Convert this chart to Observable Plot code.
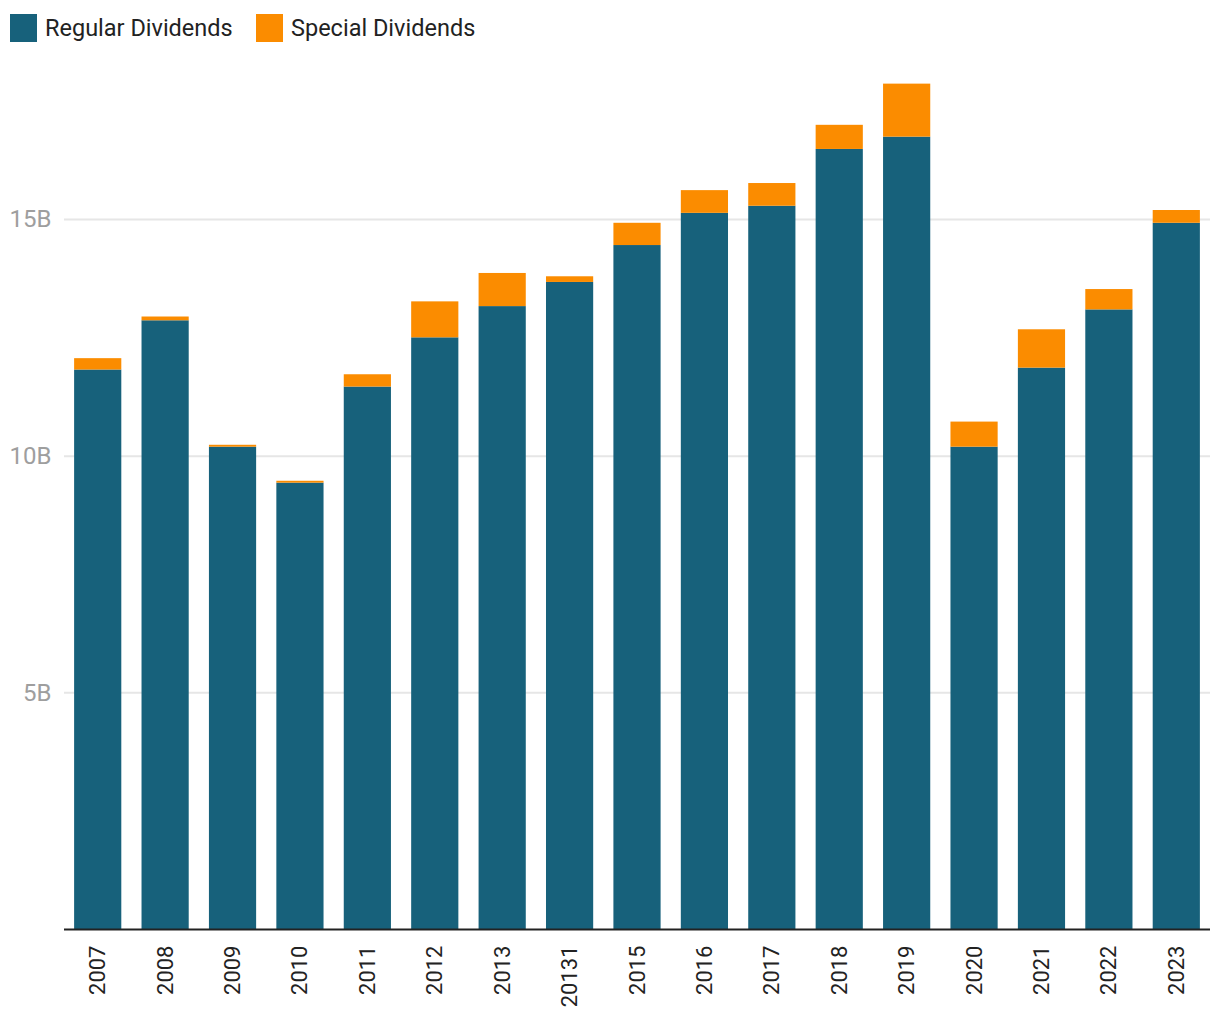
<!DOCTYPE html>
<html>
<head>
<meta charset="utf-8">
<script src="https://cdn.jsdelivr.net/npm/d3@7"></script>
<script src="https://cdn.jsdelivr.net/npm/@observablehq/plot@0.6"></script>
<style>
  html, body { margin: 0; padding: 0; background: #fff; font-family: Roboto, "Noto Sans", sans-serif; }
  #legend { position: relative; height: 50px; }
  .item { position: absolute; top: 13px; display: flex; align-items: center; font-size: 23.5px; color: #222; height: 29px; }
  .sw { width: 27px; height: 28px; margin-right: 8px; }
  #chart svg { display: block; }
</style>
</head>
<body>
<div id="legend"></div>
<div id="chart"></div>
<script>
const categories = ["2007","2008","2009","2010","2011","2012","2013","20131","2015","2016","2017","2018","2019","2020","2021","2022","2023"];
const regular = [11.82,12.86,10.19,9.43,11.46,12.50,13.16,13.67,14.45,15.13,15.28,16.48,16.74,10.19,11.86,13.09,14.92];
const special = [0.24,0.08,0.04,0.04,0.26,0.76,0.70,0.12,0.47,0.48,0.48,0.51,1.12,0.53,0.81,0.43,0.27];
const seriesNames = ["Regular Dividends","Special Dividends"];
const seriesColors = ["#17617b","#fb8c00"];
const yTicks = [5,10,15];

const data = [];
categories.forEach((c,i) => {
  data.push({year: c, series: seriesNames[0], value: regular[i]});
  data.push({year: c, series: seriesNames[1], value: special[i]});
});

// legend
const legend = document.getElementById("legend");
const legendX = [10, 256];
seriesNames.forEach((name, i) => {
  const it = document.createElement("div");
  it.className = "item";
  it.style.left = legendX[i] + "px";
  const sw = document.createElement("div");
  sw.className = "sw";
  sw.style.background = seriesColors[i];
  it.appendChild(sw);
  const t = document.createElement("span");
  t.textContent = name;
  it.appendChild(t);
  legend.appendChild(it);
});

const chart = Plot.plot({
  width: 1220,
  height: 970,
  marginTop: 27,
  marginBottom: 91,
  marginLeft: 64,
  marginRight: 10,
  style: {fontFamily: "Roboto, sans-serif", background: "#fff"},
  x: {domain: categories, paddingInner: 0.3, paddingOuter: 0.15, round: false, label: null},
  y: {domain: [0, 18], label: null},
  color: {domain: seriesNames, range: seriesColors},
  marks: [
    Plot.gridY(yTicks, {stroke: "#e6e6e6", strokeOpacity: 1, strokeWidth: 2}),
    Plot.barY(data, {x: "year", y: "value", fill: "series", z: "series", order: seriesNames}),
    Plot.ruleY([0], {stroke: "#222", strokeWidth: 2}),
    Plot.axisY(yTicks, {tickSize: 0, tickPadding: 13, tickFormat: d => d + "B", fontSize: 24, color: "#9e9e9e", label: null}),
    Plot.axisX({tickSize: 0, tickPadding: 16, tickRotate: -90, fontSize: 22, color: "#222", label: null})
  ]
});
document.getElementById("chart").appendChild(chart);
</script>
</body>
</html>
